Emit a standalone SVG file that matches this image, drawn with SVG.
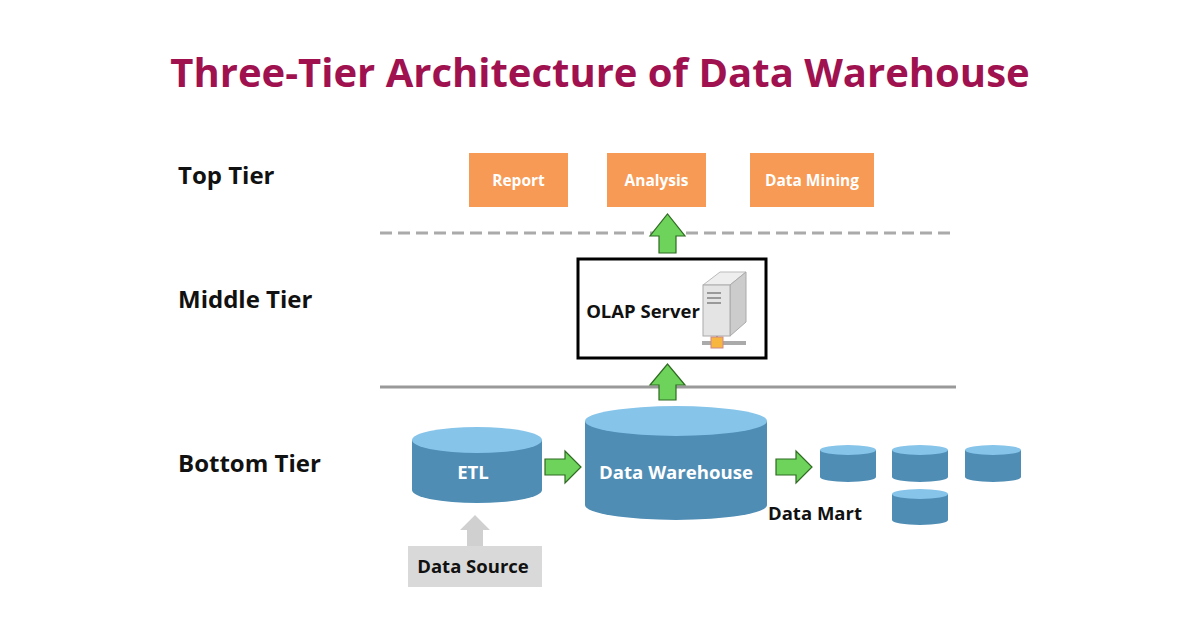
<svg xmlns="http://www.w3.org/2000/svg" width="1200" height="630" viewBox="0 0 1200 630">
<defs>
<style>
text{font-family:"Open Sans","Noto Sans","Liberation Sans",sans-serif;font-weight:bold}
.tier{font-size:24px;fill:#111}
.ob{fill:#f79a55}
.ot{font-size:15.5px;fill:#fff;text-anchor:middle}
.body{fill:#4f8db5}
.top{fill:#86c4ea}
.ga{fill:#6dd35a;stroke:#2f6b22;stroke-width:1.2}
.wt{font-size:18.6px;fill:#fff;text-anchor:middle}
.bt{font-size:18.5px;fill:#111}
</style>
</defs>
<rect width="1200" height="630" fill="#fff"/>
<text x="600" y="87" font-size="40" fill="#a0114f" text-anchor="middle">Three-Tier Architecture of Data Warehouse</text>
<text class="tier" x="178" y="184">Top Tier</text>
<text class="tier" x="178" y="308">Middle Tier</text>
<text class="tier" x="178" y="472">Bottom Tier</text>

<g id="report"><rect class="ob" x="469" y="153" width="99" height="54"/><text class="ot" x="518.5" y="186">Report</text></g>
<g id="analysis"><rect class="ob" x="607" y="153" width="99" height="54"/><text class="ot" x="656.5" y="186">Analysis</text></g>
<g id="datamining"><rect class="ob" x="750" y="153" width="124" height="54"/><text class="ot" x="812" y="186">Data Mining</text></g>

<line x1="380" y1="233" x2="956" y2="233" stroke="#aaa" stroke-width="3" stroke-dasharray="12,6"/>
<line x1="380" y1="387" x2="956" y2="387" stroke="#999" stroke-width="3"/>

<g id="olap">
<rect x="578" y="259" width="188" height="99" fill="#fff" stroke="#000" stroke-width="3"/>
<text class="bt" x="643" y="318" text-anchor="middle">OLAP Server</text>
<g>
<polygon points="703,285 720,272 746,272 730,285" fill="#eee" stroke="#bbb"/>
<polygon points="730,285 746,272 746,322 730,336" fill="#ccc" stroke="#aaa"/>
<rect x="703" y="285" width="27" height="51" fill="#e4e4e4" stroke="#aaa"/>
<line x1="707" y1="293" x2="721" y2="293" stroke="#999" stroke-width="2"/>
<line x1="707" y1="298" x2="721" y2="298" stroke="#999" stroke-width="2"/>
<line x1="707" y1="303" x2="721" y2="303" stroke="#999" stroke-width="2"/>
<line x1="717" y1="336" x2="717" y2="341" stroke="#999" stroke-width="2"/>
<line x1="702" y1="343" x2="746" y2="343" stroke="#aaa" stroke-width="4"/>
<rect x="711" y="337" width="12" height="11" fill="#f6b640" stroke="#c88"/>
</g>
</g>

<g id="etl">
<path class="body" d="M412,440 V490 A65,13 0 0 0 542,490 V440 Z"/>
<ellipse class="top" cx="477" cy="440" rx="65" ry="13"/>
<text class="wt" x="473" y="479">ETL</text>
</g>
<g id="dw">
<path class="body" d="M585,421 V505 A91,15 0 0 0 767,505 V421 Z"/>
<ellipse class="top" cx="676" cy="421" rx="91" ry="15"/>
<text class="wt" x="676" y="479">Data Warehouse</text>
</g>
<g id="datamart">
<path class="body" d="M820,450 V477 A28,5 0 0 0 876,477 V450 Z"/><ellipse class="top" cx="848" cy="450" rx="28" ry="5"/>
<path class="body" d="M892,450 V477 A28,5 0 0 0 948,477 V450 Z"/><ellipse class="top" cx="920" cy="450" rx="28" ry="5"/>
<path class="body" d="M965,450 V477 A28,5 0 0 0 1021,477 V450 Z"/><ellipse class="top" cx="993" cy="450" rx="28" ry="5"/>
<path class="body" d="M892,494 V520 A28,5 0 0 0 948,520 V494 Z"/><ellipse class="top" cx="920" cy="494" rx="28" ry="5"/>
<text class="bt" x="768" y="520">Data Mart</text>
</g>
<g id="datasource">
<rect x="408" y="546" width="134" height="41" fill="#d9d9d9"/>
<text class="bt" x="473" y="573" text-anchor="middle">Data Source</text>
</g>

<g id="connectors">
<polygon class="ga" points="659,253 676,253 676,236 685,236 667.5,214 650,236 659,236"/>
<polygon class="ga" points="659,400 676,400 676,385 685,385 667.5,364 650,385 659,385"/>
<polygon class="ga" points="545,459 565,459 565,451 581,467 565,483 565,475 545,475"/>
<polygon class="ga" points="776,459 796,459 796,451 812,467 796,483 796,475 776,475"/>
<polygon fill="#d0d0d0" points="467,546 467,530 460,530 475,515 490,530 483,530 483,546"/>
</g>
</svg>
